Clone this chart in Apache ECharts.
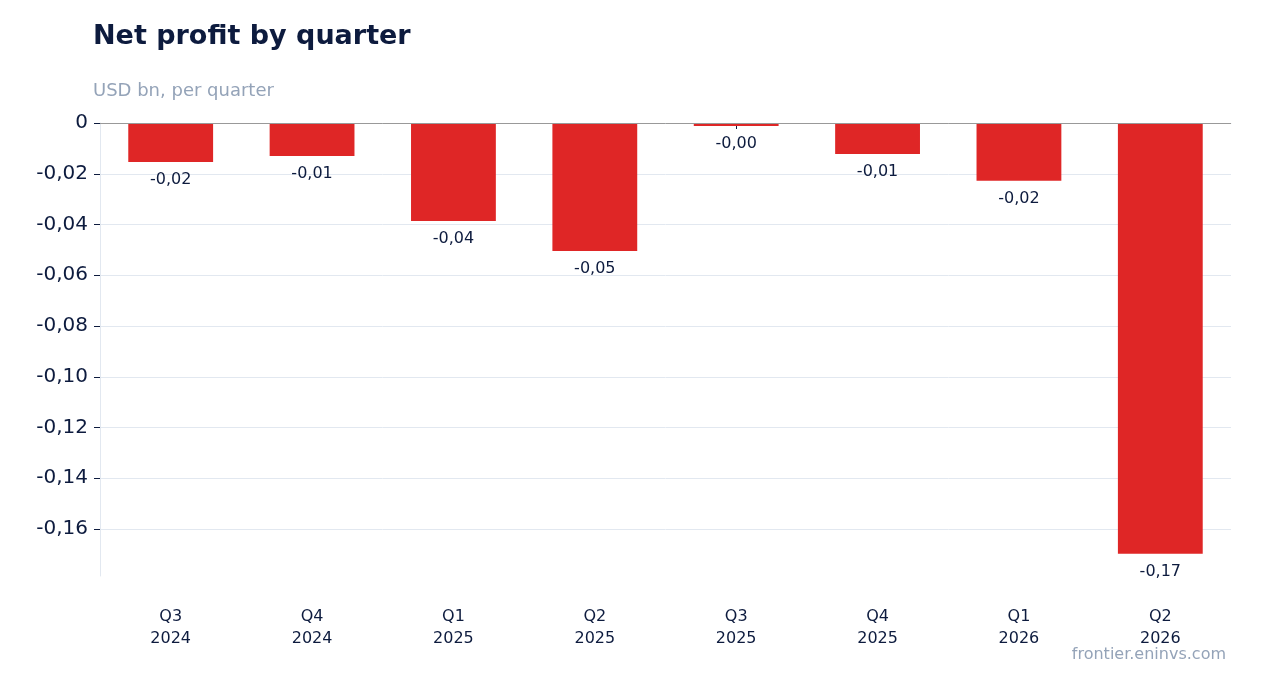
<!DOCTYPE html>
<html lang="en">
<head>
    <meta charset="UTF-8">
    <title>Net profit by quarter</title>
    <script src="https://cdn.jsdelivr.net/npm/echarts@6/dist/echarts.min.js"></script>
    <style>body{margin:0;background:#fff;}</style>
</head>
<body>
    <div id="chart" style="width:1262px;height:693px;"></div>
    <script type="text/javascript">
        var quarters = ['Q3\n2024', 'Q4\n2024', 'Q1\n2025', 'Q2\n2025', 'Q3\n2025', 'Q4\n2025', 'Q1\n2026', 'Q2\n2026'];
        var netProfit = [-0.0154, -0.013, -0.0386, -0.0504, -0.0012, -0.0122, -0.0228, -0.1697];
        var yTicks = [0, -0.02, -0.04, -0.06, -0.08, -0.10, -0.12, -0.14, -0.16];

        function fmt(v) {
            if (v === 0) return '0';
            return v.toFixed(2).replace('.', ',');
        }

        var chart = echarts.init(document.getElementById('chart'));
        chart.setOption({
            animation: false,
            textStyle: { fontFamily: 'DejaVu Sans' },
            title: [
                { text: 'Net profit by quarter', left: 88, top: 18,
                  textStyle: { fontSize: 27, fontWeight: 'bold', color: '#0d1b3e' } },
                { text: 'USD bn, per quarter', left: 88, top: 77,
                  textStyle: { fontSize: 18, fontWeight: 'normal', color: '#94a3b8' } },
                { text: 'frontier.eninvs.com', right: 31, top: 642,
                  textStyle: { fontSize: 16, fontWeight: 'normal', color: '#94a3b8' } }
            ],
            grid: { left: 100, right: 31, top: 123, bottom: 117 },
            xAxis: {
                type: 'category',
                data: quarters,
                position: 'bottom',
                axisLine: { show: true, lineStyle: { color: '#e2e8f0' } },
                axisTick: { show: true, alignWithLabel: true, length: 6, lineStyle: { color: '#0d1b3e' } },
                axisLabel: { fontSize: 16, color: '#0d1b3e', margin: 30, lineHeight: 22 }
            },
            yAxis: {
                type: 'value',
                min: -0.1785,
                max: 0,
                axisLine: { show: true, lineStyle: { color: '#e2e8f0' } },
                axisTick: { show: true, customValues: yTicks, length: 6, lineStyle: { color: '#0d1b3e' } },
                axisLabel: { customValues: yTicks, fontSize: 20, color: '#0d1b3e', formatter: fmt, margin: 12 },
                splitLine: { show: true, lineStyle: { color: '#e2e8f0' } }
            },
            series: [{
                type: 'bar',
                data: netProfit,
                barWidth: '60%',
                itemStyle: { color: '#df2626' },
                label: {
                    show: true,
                    position: 'bottom',
                    distance: 10,
                    fontSize: 16,
                    color: '#0d1b3e',
                    formatter: function (p) { return fmt(p.value); }
                },
                markLine: {
                    silent: true, symbol: 'none', label: { show: false },
                    lineStyle: { color: '#999', type: 'solid', width: 1 },
                    data: [{ yAxis: 0 }]
                }
            }]
        });
    </script>
</body>
</html>
